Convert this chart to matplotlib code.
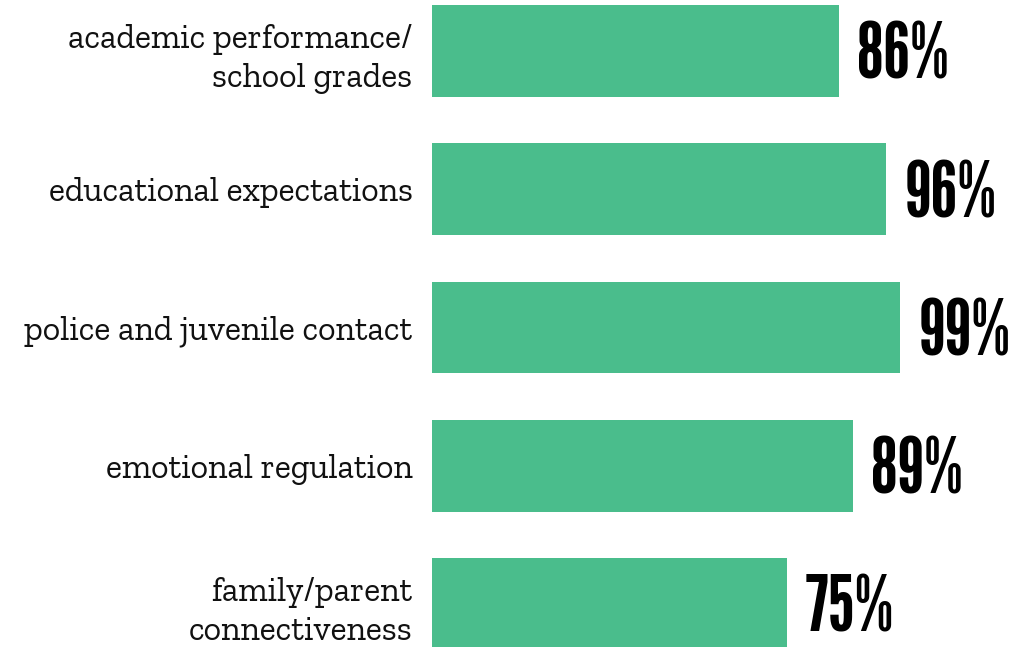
import matplotlib
matplotlib.use("Agg")
import matplotlib.pyplot as plt

# data
categories = [
    "academic performance/\nschool grades",
    "educational expectations",
    "police and juvenile contact",
    "emotional regulation",
    "family/parent\nconnectiveness",
]
values = [86, 96, 99, 89, 75]
value_labels = ["86%", "96%", "99%", "89%", "75%"]

bar_color = "#4abd8c"

fig = plt.figure(figsize=(10.09, 6.47), dpi=100)
ax = fig.add_axes([432 / 1009, 0, 472.7 / 1009, 1])

y = list(range(len(categories)))
ax.barh(y, values, height=0.665, color=bar_color)

ax.set_xlim(0, 100)
ax.set_ylim(4.311, -0.369)

ax.set_yticks(y)
ax.set_yticklabels(categories, fontsize=24.5, family=["Zilla Slab", "DejaVu Serif"],
                   weight=400, color="#111111", linespacing=1.35)
ax.tick_params(axis="y", length=0, pad=14)
ax.set_xticks([])
for s in ax.spines.values():
    s.set_visible(False)

# value labels next to each bar
for yi, v, lab in zip(y, values, value_labels):
    ax.text(v + 3.9, yi + 0.05, lab, va="center", ha="left", fontsize=56,
            family=["League Gothic", "DejaVu Sans"], color="black",
            clip_on=False)

fig.savefig("out.png", dpi=100)
